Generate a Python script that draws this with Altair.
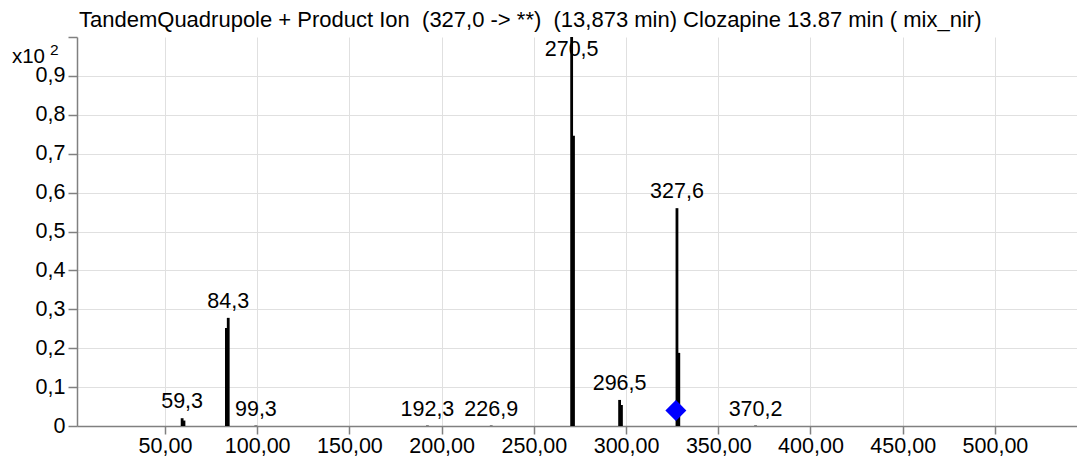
import altair as alt
import pandas as pd

# Product-ion spectrum of clozapine (precursor 327,0), abundance in units of 10^2
mz = [59.3, 60.3, 83.3, 84.3, 99.3, 192.3, 226.9, 270.5, 271.5, 296.5, 297.5, 327.6, 328.6, 370.2]
abundance = [0.020, 0.014, 0.252, 0.278, 0.001, 0.001, 0.001, 1.000, 0.746, 0.067, 0.054, 0.560, 0.188, 0.001]
labeled_mz = [59.3, 84.3, 99.3, 192.3, 226.9, 270.5, 296.5, 327.6, 370.2]
precursor_mz = [327.0]
precursor_level = [0.04]
x_ticks = [50, 100, 150, 200, 250, 300, 350, 400, 450, 500]
y_ticks = [0, 0.1, 0.2, 0.3, 0.4, 0.5, 0.6, 0.7, 0.8, 0.9, 1.0]
title_lines = ["TandemQuadrupole + Product Ion \u00a0(327,0 -> **) \u00a0(13,873 min) "
               "Clozapine 13.87 min ( mix_nir)"]

FONT = "Liberation Sans"

lookup = dict(zip(mz, abundance))
peaks = pd.DataFrame({"mz": mz, "abundance": abundance})
labels = pd.DataFrame({"mz": labeled_mz, "abundance": [lookup[m] for m in labeled_mz]})
precursor = pd.DataFrame({"mz": precursor_mz, "abundance": precursor_level})

x_scale = alt.Scale(domain=[2.3, 544.5], nice=False, zero=False)
y_scale = alt.Scale(domain=[0, 1.0], nice=False)

x_axis = alt.Axis(
    values=x_ticks,
    labelExpr="replace(format(datum.value, '.2f'), '.', ',')",
    tickSize=8, labelPadding=1, title=None,
)
y_axis = alt.Axis(
    values=y_ticks,
    labelExpr="datum.value == 0 ? '0' : (datum.value > 0.95 ? '' : replace(format(datum.value, '.1f'), '.', ','))",
    tickSize=9, labelPadding=3, title=None,
    gridOpacity={"condition": {"test": "datum.value > 0.95", "value": 0}, "value": 1},
)

sticks = alt.Chart(peaks).mark_rule(color="black", strokeWidth=2.8).encode(
    x=alt.X("mz:Q", scale=x_scale, axis=x_axis),
    y=alt.Y("abundance:Q", scale=y_scale, axis=y_axis),
    y2=alt.datum(0),
)

marker = alt.Chart(precursor).mark_point(
    shape="diamond", filled=True, color="#0000ff", size=440, opacity=1
).encode(
    x=alt.X("mz:Q", scale=x_scale, axis=x_axis),
    y=alt.Y("abundance:Q", scale=y_scale, axis=y_axis),
)

peak_labels = alt.Chart(labels).transform_calculate(
    label_y="min(datum.abundance, 0.925)",
    label="replace(format(datum.mz, '.1f'), '.', ',')",
).mark_text(font=FONT, fontSize=21.5, color="black", baseline="middle", dy=-16).encode(
    x=alt.X("mz:Q", scale=x_scale, axis=x_axis),
    y=alt.Y("label_y:Q", scale=y_scale, axis=y_axis),
    text="label:N",
)

title_text = alt.Chart(pd.DataFrame({"t": title_lines})).mark_text(
    font=FONT, fontSize=22, color="black", align="left", baseline="alphabetic"
).encode(text="t:N", x=alt.value(2), y=alt.value(-10))

exp_base = alt.Chart(pd.DataFrame({"t": ["x10"]})).mark_text(
    font=FONT, fontSize=20.5, color="black", align="right", baseline="alphabetic"
).encode(text="t:N", x=alt.value(-32), y=alt.value(26))

exp_power = alt.Chart(pd.DataFrame({"t": ["2"]})).mark_text(
    font=FONT, fontSize=15.5, color="black", align="left", baseline="alphabetic"
).encode(text="t:N", x=alt.value(-27), y=alt.value(18))

chart = alt.layer(sticks, marker, peak_labels, title_text, exp_base, exp_power).properties(
    width=1000,
    height=389,
    autosize=alt.AutoSizeParams(type="none"),
    padding={"left": 77, "top": 37, "right": 0, "bottom": 38},
).configure(
    font=FONT,
    background="white",
).configure_view(
    stroke=None,
).configure_axis(
    labelFont=FONT,
    labelFontSize=21.5,
    labelColor="black",
    domainColor="#808080",
    tickColor="#808080",
    domainWidth=1.5,
    tickWidth=1.5,
    gridColor="#e0e0e0",
    gridWidth=1,
    labelOverlap=False,
)

chart.save("out.html", embed_options={"renderer": "svg", "actions": False})
